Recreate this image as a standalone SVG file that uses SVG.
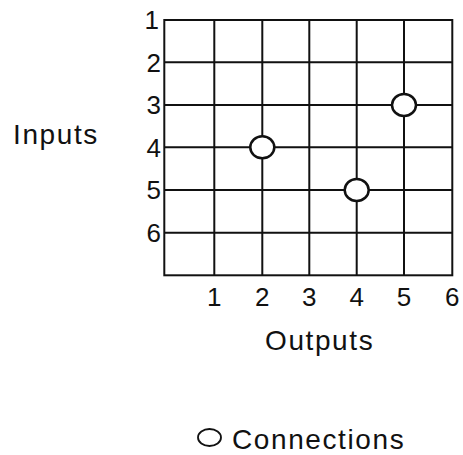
<svg xmlns="http://www.w3.org/2000/svg" width="463" height="455" viewBox="0 0 463 455">
<style>
.g{stroke:#111;stroke-width:2;fill:none}
.c{fill:#fff;stroke:#111;stroke-width:2.5}
.n{font-family:"Liberation Sans",Arial,sans-serif;font-size:26px;fill:#111}
.w{font-family:"Liberation Sans",Arial,sans-serif;font-size:28px;fill:#111;letter-spacing:1.6px}
</style>
<rect width="463" height="455" fill="#fff"/>
<g id="grid">
<rect class="g" x="164.3" y="20" width="288" height="255.3"/>
<path class="g" d="M214.3 20V275.3M262.3 20V275.3M309.3 20V275.3M356.7 20V275.3M404 20V275.3M164.3 62.3H452.3M164.3 105H452.3M164.3 147.3H452.3M164.3 190H452.3M164.3 232.7H452.3"/>
</g>
<g id="row-labels" class="n" text-anchor="end">
<text x="159" y="29">1</text>
<text x="161" y="71.5">2</text>
<text x="161" y="114">3</text>
<text x="161" y="156.5">4</text>
<text x="161" y="199">5</text>
<text x="161" y="241.5">6</text>
</g>
<g id="col-labels" class="n" text-anchor="middle">
<text x="214.3" y="306">1</text>
<text x="262.3" y="306">2</text>
<text x="309.3" y="306">3</text>
<text x="356.7" y="306">4</text>
<text x="404" y="306">5</text>
<text x="452.3" y="306">6</text>
</g>
<g id="connections">
<ellipse class="c" cx="262.3" cy="147.3" rx="12" ry="11"/>
<ellipse class="c" cx="356.7" cy="190" rx="12" ry="11"/>
<ellipse class="c" cx="404" cy="105" rx="12" ry="11"/>
</g>
<g id="inputs-label"><text class="w" x="13" y="144">Inputs</text></g>
<g id="outputs-label"><text class="w" x="265" y="350">Outputs</text></g>
<g id="legend">
<ellipse cx="209.5" cy="437.5" rx="11.5" ry="8.5" fill="none" stroke="#111" stroke-width="1.8"/>
<text class="w" x="232" y="449">Connections</text>
</g>
</svg>
